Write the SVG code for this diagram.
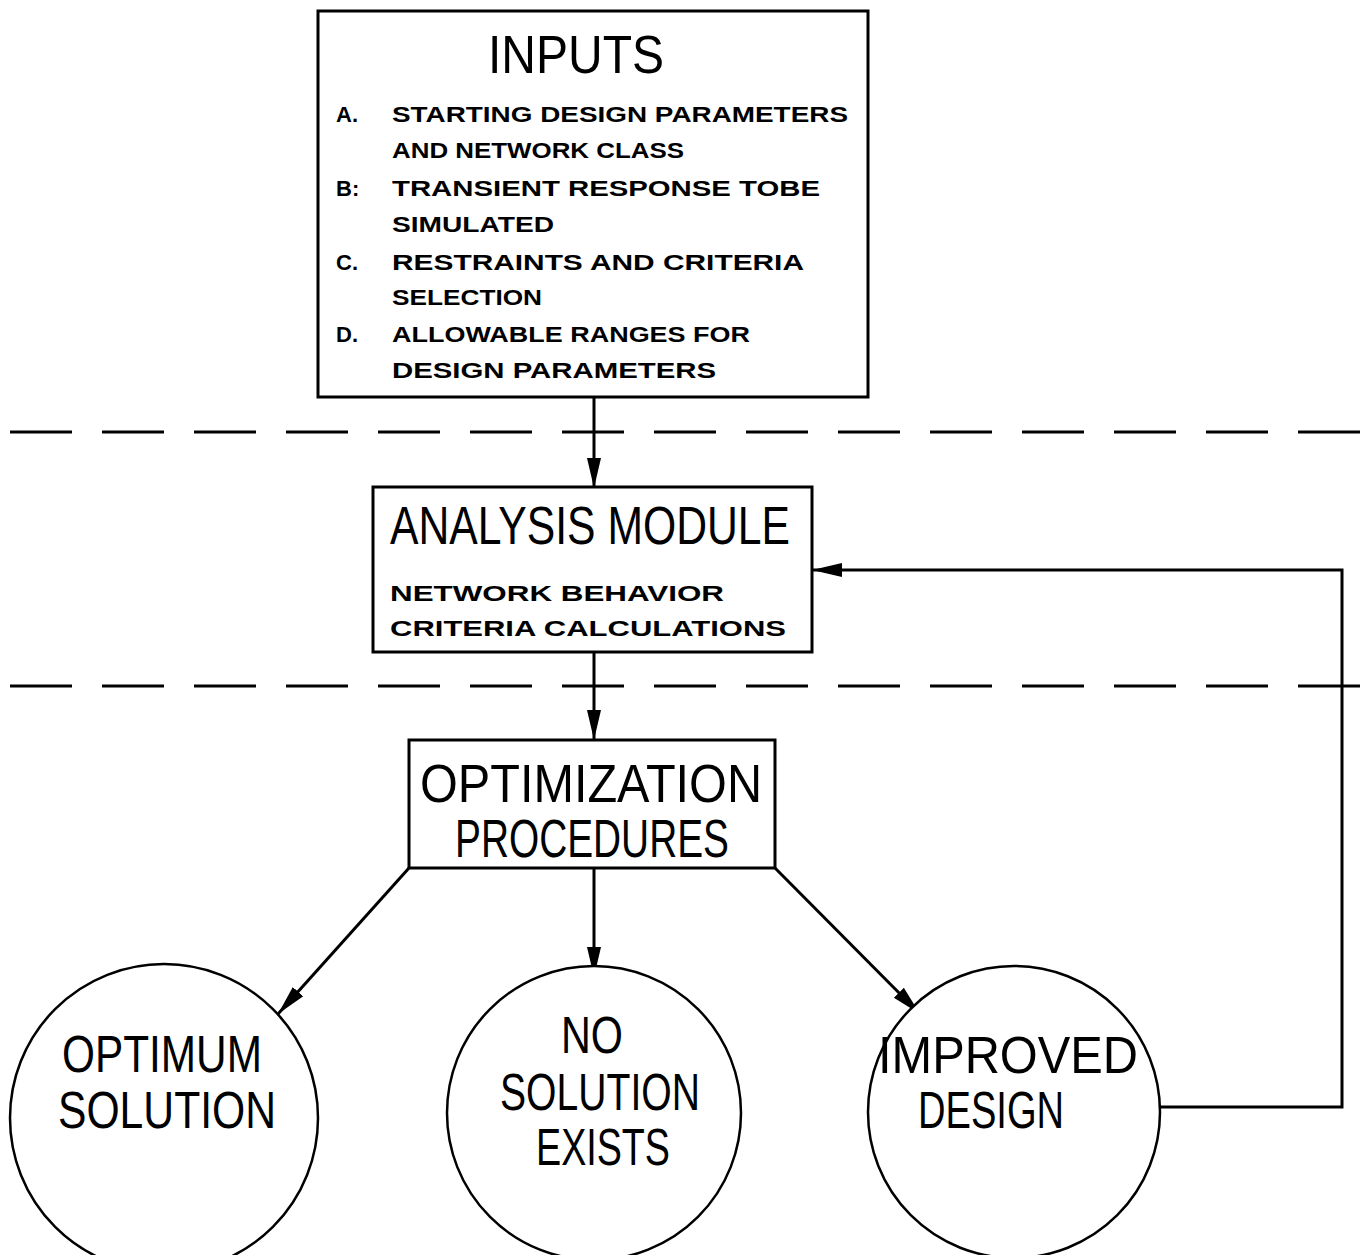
<svg xmlns="http://www.w3.org/2000/svg" width="1363" height="1255" viewBox="0 0 1363 1255">
<defs>
<style>
.box{fill:#fff;stroke:#000;stroke-width:3}
.circ{fill:#fff;stroke:#000;stroke-width:2.5}
.dash{stroke:#000;stroke-width:3;stroke-dasharray:62 30;fill:none}
.con{stroke:#000;stroke-width:3;fill:none}
.big{font-family:"Liberation Sans",Arial,sans-serif;font-size:54px;fill:#000}
.mid{font-family:"Liberation Sans",Arial,sans-serif;font-size:52px;fill:#000}
.small{font-family:"Liberation Sans",Arial,sans-serif;font-size:22px;font-weight:bold;fill:#000}
</style>
<marker id="ahl" viewBox="0 0 30 20" refX="30" refY="10" markerWidth="30" markerHeight="20" markerUnits="userSpaceOnUse" orient="auto">
<path d="M0,3 L30,10 L0,17 Z" fill="#000"/>
</marker>
</defs>
<rect width="1363" height="1255" fill="#fff"/>
<g id="separators">
<line class="dash" x1="10" y1="432" x2="1363" y2="432"/>
<line class="dash" x1="10" y1="686" x2="1363" y2="686"/>
</g>
<g id="connectors">
<line class="con" x1="594" y1="397" x2="594" y2="488" marker-end="url(#ahl)"/>
<line class="con" x1="594" y1="652" x2="594" y2="740" marker-end="url(#ahl)"/>
<line class="con" x1="409" y1="868" x2="278" y2="1014" marker-end="url(#ahl)"/>
<line class="con" x1="594" y1="868" x2="594" y2="977" marker-end="url(#ahl)"/>
<line class="con" x1="775" y1="868" x2="920" y2="1014" marker-end="url(#ahl)"/>
<polyline class="con" points="1160,1107 1342,1107 1342,570 812,570" marker-end="url(#ahl)"/>
</g>
<g id="inputs">
<rect class="box" x="318" y="11" width="550" height="386"/>
<text class="big" x="576" y="73" text-anchor="middle" textLength="176" lengthAdjust="spacingAndGlyphs">INPUTS</text>
<text class="small" x="336" y="122">A.</text>
<text class="small" x="392" y="122" textLength="456" lengthAdjust="spacingAndGlyphs">STARTING DESIGN PARAMETERS</text>
<text class="small" x="392" y="158" textLength="292" lengthAdjust="spacingAndGlyphs">AND NETWORK CLASS</text>
<text class="small" x="336" y="196">B:</text>
<text class="small" x="392" y="196" textLength="428" lengthAdjust="spacingAndGlyphs">TRANSIENT RESPONSE TOBE</text>
<text class="small" x="392" y="232" textLength="162" lengthAdjust="spacingAndGlyphs">SIMULATED</text>
<text class="small" x="336" y="270">C.</text>
<text class="small" x="392" y="270" textLength="412" lengthAdjust="spacingAndGlyphs">RESTRAINTS AND CRITERIA</text>
<text class="small" x="392" y="305" textLength="150" lengthAdjust="spacingAndGlyphs">SELECTION</text>
<text class="small" x="336" y="342">D.</text>
<text class="small" x="392" y="342" textLength="358" lengthAdjust="spacingAndGlyphs">ALLOWABLE RANGES FOR</text>
<text class="small" x="392" y="378" textLength="324" lengthAdjust="spacingAndGlyphs">DESIGN PARAMETERS</text>
</g>
<g id="analysis">
<rect class="box" x="373" y="487" width="439" height="165"/>
<text class="big" x="390" y="544" textLength="400" lengthAdjust="spacingAndGlyphs">ANALYSIS MODULE</text>
<text class="small" x="390" y="601" textLength="334" lengthAdjust="spacingAndGlyphs">NETWORK BEHAVIOR</text>
<text class="small" x="390" y="636" textLength="396" lengthAdjust="spacingAndGlyphs">CRITERIA CALCULATIONS</text>
</g>
<g id="optimization">
<rect class="box" x="409" y="740" width="366" height="128"/>
<text class="big" x="420" y="802" textLength="342" lengthAdjust="spacingAndGlyphs">OPTIMIZATION</text>
<text class="big" x="455" y="857" textLength="274" lengthAdjust="spacingAndGlyphs">PROCEDURES</text>
</g>
<g id="optimum">
<circle class="circ" cx="164" cy="1118" r="154"/>
<text class="mid" x="62" y="1072" textLength="200" lengthAdjust="spacingAndGlyphs">OPTIMUM</text>
<text class="mid" x="58" y="1128" textLength="218" lengthAdjust="spacingAndGlyphs">SOLUTION</text>
</g>
<g id="nosolution">
<circle class="circ" cx="594" cy="1113" r="147"/>
<text class="mid" x="592" y="1053" text-anchor="middle" textLength="62" lengthAdjust="spacingAndGlyphs">NO</text>
<text class="mid" x="500" y="1110" textLength="200" lengthAdjust="spacingAndGlyphs">SOLUTION</text>
<text class="mid" x="536" y="1165" textLength="134" lengthAdjust="spacingAndGlyphs">EXISTS</text>
</g>
<g id="improved">
<circle class="circ" cx="1014" cy="1112" r="146"/>
<text class="mid" x="878" y="1073" textLength="260" lengthAdjust="spacingAndGlyphs">IMPROVED</text>
<text class="mid" x="918" y="1128" textLength="146" lengthAdjust="spacingAndGlyphs">DESIGN</text>
</g>
</svg>
